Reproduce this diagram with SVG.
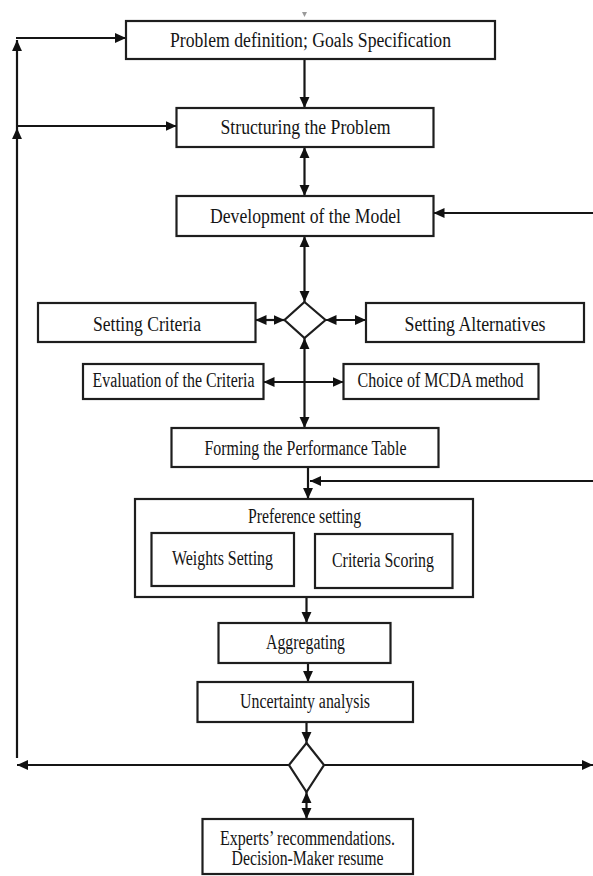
<svg xmlns="http://www.w3.org/2000/svg" width="593" height="876" viewBox="0 0 593 876">
  <defs>
    <marker id="arrow" viewBox="0 0 10 10" refX="10" refY="5" markerWidth="11" markerHeight="11" markerUnits="userSpaceOnUse" orient="auto-start-reverse">
      <path d="M0,0.5 L10,5 L0,9.5 z" fill="#111"/>
    </marker>
  </defs>
  <style>
    .box { fill: #fff; stroke: #1e1e1e; stroke-width: 2.2; }
    .dia { fill: #fff; stroke: #1e1e1e; stroke-width: 2.2; }
    .ln { fill: none; stroke: #151515; stroke-width: 2.2; }
    .one { marker-end: url(#arrow); }
    .two { marker-start: url(#arrow); marker-end: url(#arrow); }
    .lbl { font-family: "Liberation Serif", "Times New Roman", Times, serif; font-size: 20px; fill: #141414; text-anchor: middle; }
  </style>

  <rect width="593" height="876" fill="#fff"/>

  <!-- small marker above the first step -->
  <polygon points="302,12 307,12 304.5,17" fill="#9a9a9a"/>

  <!-- connectors -->
  <g id="connectors">
    <!-- main flow -->
    <line class="ln one" x1="304.5" y1="59" x2="304.5" y2="108"/>
    <line class="ln two" x1="304.5" y1="147" x2="304.5" y2="196"/>
    <line class="ln two" x1="304.5" y1="236" x2="304.5" y2="302"/>
    <line class="ln two" x1="284.5" y1="320" x2="255.5" y2="320"/>
    <line class="ln two" x1="325.5" y1="320" x2="366" y2="320"/>
    <line class="ln two" x1="304.5" y1="338" x2="304.5" y2="428"/>
    <line class="ln two" x1="263.5" y1="382" x2="343.5" y2="382"/>
    <line class="ln one" x1="308" y1="467" x2="308" y2="499"/>
    <line class="ln one" x1="306.5" y1="597" x2="306.5" y2="623"/>
    <line class="ln one" x1="308" y1="663" x2="308" y2="682"/>
    <line class="ln one" x1="306.5" y1="722" x2="306.5" y2="743"/>
    <line class="ln two" x1="306.5" y1="792" x2="306.5" y2="819"/>

    <!-- feedback to the left -->
    <line class="ln one" x1="289" y1="765" x2="17" y2="765"/>
    <line class="ln one" x1="17" y1="758" x2="17" y2="128"/>
    <line class="ln one" x1="17" y1="128" x2="17" y2="40"/>
    <line class="ln one" x1="16" y1="38" x2="126" y2="38"/>
    <line class="ln one" x1="16" y1="126" x2="176.5" y2="126"/>

    <!-- feedback to the right -->
    <line class="ln one" x1="324" y1="765" x2="593" y2="765"/>
    <line class="ln one" x1="593" y1="213" x2="433.5" y2="213"/>
    <line class="ln one" x1="593" y1="481" x2="310" y2="481"/>
  </g>

  <g id="problem-definition">
    <rect class="box" x="126" y="21" width="369" height="38"/>
    <text class="lbl" x="310.5" y="47" textLength="281" lengthAdjust="spacingAndGlyphs">Problem definition; Goals Specification</text>
  </g>

  <g id="structuring">
    <rect class="box" x="176.5" y="108" width="257" height="39"/>
    <text class="lbl" x="305.5" y="134" textLength="170" lengthAdjust="spacingAndGlyphs">Structuring the Problem</text>
  </g>

  <g id="development">
    <rect class="box" x="176.5" y="196" width="257" height="40"/>
    <text class="lbl" x="305.5" y="223" textLength="191" lengthAdjust="spacingAndGlyphs">Development of the Model</text>
  </g>

  <g id="decision-1">
    <polygon class="dia" points="304.5,302 325.5,320 304.5,338 284.5,320"/>
  </g>

  <g id="setting-criteria">
    <rect class="box" x="38" y="303" width="217.5" height="39"/>
    <text class="lbl" x="147" y="331" textLength="108" lengthAdjust="spacingAndGlyphs">Setting Criteria</text>
  </g>

  <g id="setting-alternatives">
    <rect class="box" x="366" y="303" width="218" height="39"/>
    <text class="lbl" x="475" y="331" textLength="141" lengthAdjust="spacingAndGlyphs">Setting Alternatives</text>
  </g>

  <g id="evaluation">
    <rect class="box" x="83" y="364" width="180.5" height="35"/>
    <text class="lbl" x="173.5" y="387" textLength="162" lengthAdjust="spacingAndGlyphs">Evaluation of the Criteria</text>
  </g>

  <g id="mcda-choice">
    <rect class="box" x="343.5" y="364" width="195" height="35"/>
    <text class="lbl" x="440.5" y="387" textLength="166" lengthAdjust="spacingAndGlyphs">Choice of MCDA method</text>
  </g>

  <g id="performance-table">
    <rect class="box" x="171.5" y="428" width="267" height="39"/>
    <text class="lbl" x="305.5" y="455" textLength="202" lengthAdjust="spacingAndGlyphs">Forming the Performance Table</text>
  </g>

  <g id="preference-setting">
    <rect class="box" x="135" y="499" width="338" height="98"/>
    <text class="lbl" x="304.5" y="523" textLength="113" lengthAdjust="spacingAndGlyphs">Preference setting</text>
  </g>

  <g id="weights-setting">
    <rect class="box" x="151.5" y="533" width="142.5" height="53"/>
    <text class="lbl" x="222.5" y="565" textLength="101" lengthAdjust="spacingAndGlyphs">Weights Setting</text>
  </g>

  <g id="criteria-scoring">
    <rect class="box" x="315" y="534" width="137.5" height="54"/>
    <text class="lbl" x="383" y="567" textLength="102" lengthAdjust="spacingAndGlyphs">Criteria Scoring</text>
  </g>

  <g id="aggregating">
    <rect class="box" x="218.5" y="623" width="172" height="40"/>
    <text class="lbl" x="305.5" y="649" textLength="79" lengthAdjust="spacingAndGlyphs">Aggregating</text>
  </g>

  <g id="uncertainty">
    <rect class="box" x="197.5" y="682" width="215.5" height="40"/>
    <text class="lbl" x="305" y="708" textLength="130" lengthAdjust="spacingAndGlyphs">Uncertainty analysis</text>
  </g>

  <g id="decision-2">
    <polygon class="dia" points="306.5,743 324,765 306.5,792 289,765"/>
  </g>

  <g id="recommendations">
    <rect class="box" x="202.5" y="819" width="210.5" height="55"/>
    <text class="lbl" x="307.5" y="845" textLength="175" lengthAdjust="spacingAndGlyphs">Experts’ recommendations.</text>
    <text class="lbl" x="307.5" y="865" textLength="152" lengthAdjust="spacingAndGlyphs">Decision-Maker resume</text>
  </g>
</svg>
